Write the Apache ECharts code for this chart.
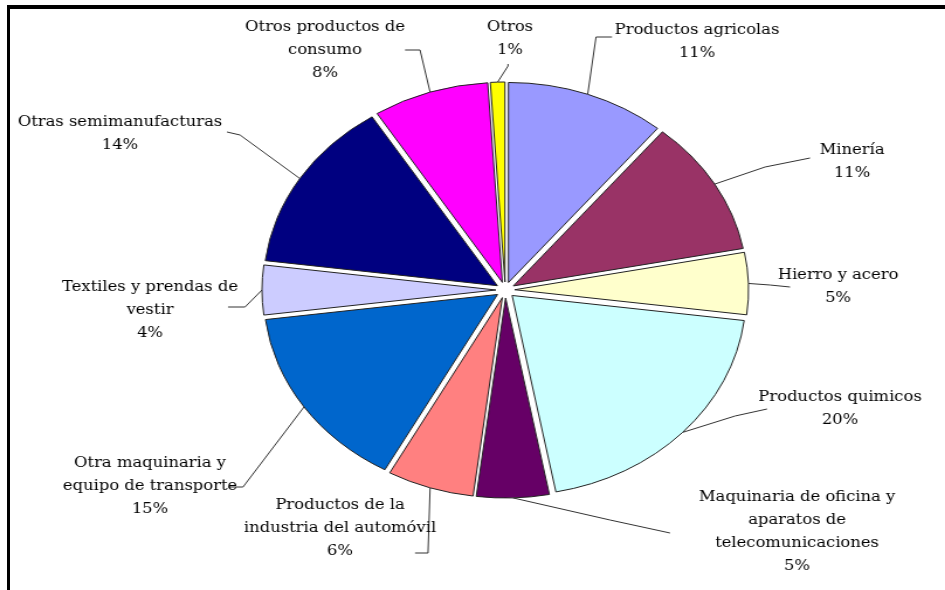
<!DOCTYPE html>
<html>
<head>
<meta charset="utf-8">
<script src="https://cdn.jsdelivr.net/npm/echarts@6/dist/echarts.min.js"></script>
<style>
  html, body { margin: 0; padding: 0; background: #fff; }
  #frame { position: absolute; left: 7px; top: 5px; width: 938px; height: 585px;
           border-top: 4px solid #000; border-left: 3px solid #000; box-sizing: border-box; }
  /* el grafico original esta estirado en horizontal */
  #main { position: absolute; left: 0; top: 0; width: 808px; height: 590px;
          transform: scaleX(1.1696); transform-origin: 0 0; }
</style>
</head>
<body>
<div id="frame"></div>
<div id="main"></div>
<script>
/* datos */
var categorias = [
    'Productos agricolas',
    'Minería',
    'Hierro y acero',
    'Productos quimicos',
    'Maquinaria de oficina y\naparatos de\ntelecomunicaciones',
    'Productos de la\nindustria del automóvil',
    'Otra maquinaria y\nequipo de transporte',
    'Textiles y prendas de\nvestir',
    'Otras semimanufacturas',
    'Otros productos de\nconsumo',
    'Otros'
];
var porcentajes = [11, 11, 5, 20, 5, 6, 15, 4, 14, 8, 1];
var colores = ['#9999ff', '#993366', '#ffffcc', '#ccffff', '#660066', '#ff8080',
               '#0066cc', '#ccccff', '#000080', '#ff00ff', '#ffff00'];

/* posicion de las etiquetas (px de la imagen): centro x, centro 1a linea y, codo x/y, fin x/y */
var ESCALA = 945 / 808;
var SEPARACION = 8;
var etiquetas = [
    [697, 30, 596, 37, 612, 37],
    [852, 150, 765, 167, 810, 158],
    [838, 275, 770, 285, 790, 287],
    [840, 397, 735, 416, 767, 409],
    [797, 497, 610, 520, 670, 533],
    [340, 505, 428, 553, 415, 553],
    [150, 463, 243, 487, 228, 487],
    [150, 287, 245, 307, 228, 307],
    [120, 122, 240, 135, 227, 132],
    [325, 27, 420, 50, 405, 50],
    [510, 27, 508, 66, 508, 64]
];

var total = porcentajes.reduce(function (a, b) { return a + b; }, 0);
/* desplazamiento de cada porcion separada (la etiqueta se mueve con ella) */
var desplaz = [];
(function () {
    var acum = 0;
    porcentajes.forEach(function (v) {
        var a = 2 * Math.PI * (acum + v / 2) / total;
        desplaz.push([Math.sin(a) * SEPARACION, -Math.cos(a) * SEPARACION]);
        acum += v;
    });
})();

var chart = echarts.init(document.getElementById('main'));

var datos = categorias.map(function (c, i) {
    return { name: c, value: porcentajes[i], selected: true,
             itemStyle: { color: colores[i] } };
});

chart.setOption({
    animation: false,
    series: [{
        type: 'pie',
        center: [432, 290],
        radius: 200,
        startAngle: 90,
        clockwise: true,
        selectedMode: 'multiple',
        selectedOffset: SEPARACION,
        data: datos,
        itemStyle: { borderColor: '#222', borderWidth: 1 },
        select: { itemStyle: { borderColor: '#222', borderWidth: 1 } },
        emphasis: { disabled: true },
        label: {
            show: true,
            position: 'outside',
            formatter: '{b}\n{c}%',
            fontFamily: 'DejaVu Serif',
            fontSize: 14,
            lineHeight: 23,
            color: '#000'
        },
        labelLine: {
            show: true,
            length: 20,
            length2: 25,
            lineStyle: { color: '#333', width: 1 }
        },
        labelLayout: function (p) {
            var i = p.dataIndex;
            var e = etiquetas[i];
            var d = desplaz[i];
            var r = p.labelRect;
            // punto de anclaje actual de la etiqueta
            var ax = p.align === 'right' ? r.x + r.width : (p.align === 'center' ? r.x + r.width / 2 : r.x);
            var ay = r.y + r.height / 2;
            var p0 = p.labelLinePoints ? p.labelLinePoints[0] : [e[2] / ESCALA - d[0], e[3] - d[1]];
            return {
                dx: e[0] / ESCALA - ax - d[0],
                dy: e[1] - 11.5 - ay - d[1],
                align: 'center',
                verticalAlign: 'top',
                labelLinePoints: [
                    p0,
                    [e[2] / ESCALA - d[0], e[3] - d[1]],
                    [e[4] / ESCALA - d[0], e[5] - d[1]]
                ]
            };
        }
    }]
});
</script>
</body>
</html>
